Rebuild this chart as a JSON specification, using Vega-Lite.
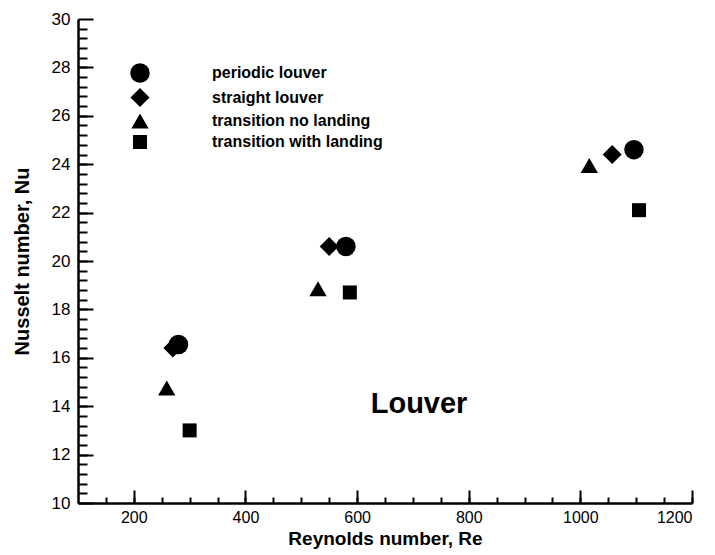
{
  "$schema": "https://vega.github.io/schema/vega-lite/v6.json",
  "width": 614,
  "height": 484,
  "autosize": {"type": "none"},
  "padding": {"left": 78, "top": 19, "right": 23, "bottom": 52},
  "background": "white",
  "config": {
    "font": "Liberation Sans",
    "view": {"stroke": null},
    "axis": {"labelColor": "#000", "titleColor": "#000", "domainColor": "#000", "tickColor": "#000", "grid": false}
  },
  "data": {
    "values": [
      {"Re": 270, "Nu": 16.4, "series": "straight louver"},
      {"Re": 550, "Nu": 20.6, "series": "straight louver"},
      {"Re": 1057, "Nu": 24.4, "series": "straight louver"},
      {"Re": 280, "Nu": 16.55, "series": "periodic louver"},
      {"Re": 580, "Nu": 20.6, "series": "periodic louver"},
      {"Re": 1096, "Nu": 24.6, "series": "periodic louver"},
      {"Re": 259, "Nu": 14.75, "series": "transition no landing"},
      {"Re": 530, "Nu": 18.85, "series": "transition no landing"},
      {"Re": 1016, "Nu": 23.95, "series": "transition no landing"},
      {"Re": 300, "Nu": 13.0, "series": "transition with landing"},
      {"Re": 587, "Nu": 18.7, "series": "transition with landing"},
      {"Re": 1105, "Nu": 22.1, "series": "transition with landing"}
    ]
  },
  "layer": [
    {
      "mark": {"type": "point", "filled": true, "opacity": 1, "color": "#000"},
      "encoding": {
        "x": {
          "field": "Re", "type": "quantitative",
          "scale": {"domain": [100, 1200], "nice": false, "zero": false},
          "axis": {
            "orient": "bottom",
            "values": [200, 400, 600, 800, 1000, 1200],
            "format": "d",
            "tickSize": -13, "tickWidth": 2, "domainWidth": 2.5,
            "labelFontSize": 16, "labelPadding": 19,
            "title": "Reynolds number, Re", "titleFontSize": 19, "titleFontWeight": "bold", "titlePadding": 4
          }
        },
        "y": {
          "field": "Nu", "type": "quantitative",
          "scale": {"domain": [10, 30], "nice": false, "zero": false},
          "axis": {
            "orient": "left",
            "values": [10, 12, 14, 16, 18, 20, 22, 24, 26, 28, 30],
            "tickSize": -15, "tickWidth": 2, "domainWidth": 2.5,
            "labelFontSize": 17, "labelPadding": 23,
            "title": "Nusselt number, Nu", "titleFontSize": 20, "titleFontWeight": "bold", "titlePadding": 19
          }
        },
        "shape": {
          "field": "series", "type": "nominal",
          "scale": {
            "domain": ["periodic louver", "straight louver", "transition no landing", "transition with landing"],
            "range": ["circle", "diamond", "triangle-up", "square"]
          },
          "legend": {
            "title": null, "orient": "none", "legendX": 52, "legendY": 44,
            "labelFontSize": 16, "labelFontWeight": "bold", "labelColor": "#000", "labelLimit": 400,
            "labelOffset": 62, "rowPadding": 5, "padding": 0,
            "symbolFillColor": "#000", "symbolStrokeColor": "#000", "symbolStrokeWidth": 0, "symbolOpacity": 1
          }
        },
        "size": {
          "field": "series", "type": "nominal",
          "scale": {
            "type": "ordinal",
            "domain": ["periodic louver", "straight louver", "transition no landing", "transition with landing"],
            "range": [380, 361, 300, 196]
          }
        }
      }
    },
    {
      "data": {"values": [{"Re": 711, "Nu": 14.1, "label": "Louver"}]},
      "mark": {"type": "text", "fontSize": 29, "fontWeight": "bold", "color": "#000", "align": "center", "baseline": "middle"},
      "encoding": {
        "x": {
          "field": "Re", "type": "quantitative",
          "scale": {"domain": [100, 1200], "nice": false, "zero": false},
          "axis": {
            "orient": "bottom",
            "values": [150, 200, 250, 300, 350, 400, 450, 500, 550, 600, 650, 700, 750, 800, 850, 900, 950, 1000, 1050, 1100, 1150, 1200],
            "tickSize": -6, "tickWidth": 2, "domain": false, "labels": false, "title": null
          }
        },
        "y": {
          "field": "Nu", "type": "quantitative",
          "scale": {"domain": [10, 30], "nice": false, "zero": false},
          "axis": {
            "orient": "left",
            "values": [10.4, 10.8, 11.2, 11.6, 12, 12.4, 12.8, 13.2, 13.6, 14, 14.4, 14.8, 15.2, 15.6, 16, 16.4, 16.8, 17.2, 17.6, 18, 18.4, 18.8, 19.2, 19.6, 20, 20.4, 20.8, 21.2, 21.6, 22, 22.4, 22.8, 23.2, 23.6, 24, 24.4, 24.8, 25.2, 25.6, 26, 26.4, 26.8, 27.2, 27.6, 28, 28.4, 28.8, 29.2, 29.6],
            "tickSize": -9, "tickWidth": 2, "domain": false, "labels": false, "title": null
          }
        },
        "text": {"field": "label"}
      }
    }
  ],
  "resolve": {"scale": {"x": "independent", "y": "independent"}, "axis": {"x": "independent", "y": "independent"}}
}
